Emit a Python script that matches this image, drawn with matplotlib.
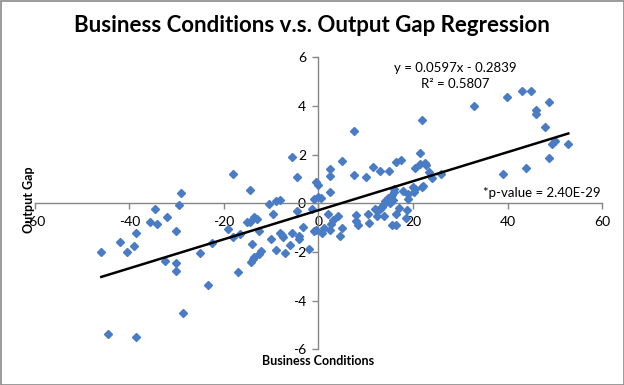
import matplotlib
matplotlib.use("Agg")
import matplotlib.pyplot as plt
from matplotlib.patches import Rectangle
import numpy as np

# Business conditions (x) and output gap (y)
business_conditions = [
    -29.13, -29.43, -34.50, -32.03, -35.56, -34.08, -30.06, -38.52, -41.97, -38.94,
    -45.92, -40.42, -24.99, -32.39, -30.06, -30.06, -23.30, -28.58, -44.44, -38.52,
    -18.01, -4.48, -14.42, -10.47, -8.99, -8.14, -9.56, -4.48, -13.57, -12.94,
    -15.05, -14.42, -19.07, -12.52, -3.21, -8.08, -7.65, -7.44, -5.54, -4.06,
    -4.06, -18.01, -16.53, -10.04, -22.45, -14.00, -5.96, -8.92, -7.02, -12.09,
    -12.52, -13.57, -13.78, -14.21, -1.95, -16.96,
    7.57, -5.54, 5.03, 2.49, 2.49, 7.57, 10.11, 11.59, -0.47, -0.04,
    2.49, -0.89, -0.04, 0.59, -1.31, 2.07, 4.19, 7.99, 10.53, 3.13,
    2.71, 2.49, 5.03, 7.99, 8.41, 10.74, 1.23, 0.80, -0.47, -0.89, 4.61,
    21.95, 13.07, 14.97, 16.45, 17.51, 21.52, 21.52, 22.58, 22.79, 20.47,
    23.42, 24.06, 25.96, 22.16, 21.95, 20.04, 20.47, 20.25, 17.93, 18.99,
    18.99, 16.03, 16.03, 15.60, 15.39, 14.12, 13.70, 13.49, 14.76, 15.81,
    15.18, 12.01, 12.64, 13.07, 12.43, 13.91, 17.08, 18.77, 18.56, 16.45,
    15.60, 16.45,
    32.88, 39.92, 43.09, 44.99, 46.05, 46.05, 48.79, 47.95, 48.79, 43.93,
    39.07, 52.81, 50.00, 49.43,
]
output_gap = [
    0.44, -0.08, -0.25, -0.58, -0.77, -0.86, -1.15, -1.23, -1.60, -1.77,
    -2.01, -2.01, -2.06, -2.38, -2.47, -2.79, -3.37, -4.52, -5.38, -5.51,
    1.19, 1.07, 0.53, -0.04, 0.08, 0.15, -0.44, -0.33, -0.58, -0.66,
    -0.78, -0.78, -1.07, -1.15, -0.99, -1.23, -1.32, -1.40, -1.23, -1.36,
    -1.46, -1.40, -1.27, -1.48, -1.64, -1.69, -1.73, -1.93, -2.06, -1.97,
    -2.10, -2.22, -2.30, -2.42, -1.89, -2.84,
    2.98, 1.89, 1.73, 1.40, 1.11, 1.15, 1.07, 1.48, 0.86, 0.74,
    0.45, 0.16, 0.25, 0.21, -0.25, -0.45, -0.53, -0.49, -0.45, -0.70,
    -0.86, -1.11, -1.03, -0.74, -0.90, -0.82, -1.03, -1.23, -1.11, -1.15, -1.36,
    3.41, 1.32, 1.32, 1.69, 1.77, 2.06, 1.60, 1.64, 1.56, 1.44,
    1.27, 1.03, 1.19, 0.70, 0.66, 0.66, 0.58, 0.45, 0.49, 0.37,
    0.16, 0.58, 0.45, 0.33, 0.25, 0.08, -0.08, -0.16, 0.21, 0.12,
    0.00, -0.25, -0.29, -0.25, -0.53, -0.53, -0.21, -0.29, -0.62, -0.45,
    -0.90, -0.90,
    4.00, 4.36, 4.60, 4.60, 3.82, 3.66, 4.15, 3.12, 1.85, 1.44,
    1.19, 2.42, 2.56, 2.42,
]

slope = 0.0597
intercept = -0.2839
r_squared = 0.5807
p_value_text = "2.40E-29"

x_ticks = [-60, -40, -20, 0, 20, 40, 60]
y_ticks = [-6, -4, -2, 0, 2, 4, 6]

title = "Business Conditions v.s. Output Gap Regression"
x_label = "Business Conditions"
y_label = "Output Gap"

FONT = "Lato"
plt.rcParams["font.family"] = [FONT, "DejaVu Sans"]

fig = plt.figure(figsize=(6.24, 3.85), dpi=100)
W, H = 624, 385

# outer chart border
fig.patches.append(Rectangle((0.5 / W, 0.5 / H), 1 - 1.0 / W, 1 - 1.0 / H,
                             transform=fig.transFigure, fill=False,
                             edgecolor="#8a8a8a", linewidth=1.2))

ax = fig.add_axes([34.7 / W, (H - 349.3) / H, 567.6 / W, 292.0 / H])
ax.set_xlim(-60, 60)
ax.set_ylim(-6, 6)

xs = np.array(business_conditions)
ys = np.array(output_gap)
ax.plot(xs, ys, linestyle="none", marker="D", markersize=4.3,
        markerfacecolor="#4A7CC6", markeredgecolor="#4A7CC6", zorder=3)

xl = np.array([xs.min(), xs.max()])
ax.plot(xl, slope * xl + intercept, color="black", linewidth=1.8, zorder=4)

for side in ("top", "right"):
    ax.spines[side].set_visible(False)
ax.spines["left"].set_position(("data", 0))
ax.spines["bottom"].set_position(("data", 0))
for side in ("left", "bottom"):
    ax.spines[side].set_color("#868686")
    ax.spines[side].set_linewidth(1.0)

ax.set_xticks(x_ticks)
ax.set_yticks(y_ticks)
ax.set_xticklabels([str(t) for t in x_ticks])
ax.set_yticklabels([str(t) for t in y_ticks])
ax.tick_params(axis="both", direction="out", length=4, width=1.0,
               color="#868686", labelsize=10, labelcolor="black", pad=5)
ax.patch.set_alpha(0)

fig.text(312 / W, 1 - 26 / H, title, ha="center", va="center",
         fontsize=16, fontweight="bold")
fig.text(318 / W, 1 - 361 / H, x_label, ha="center", va="center",
         fontsize=9, fontweight="bold")
fig.text(29 / W, 1 - 200 / H, y_label, ha="center", va="center",
         fontsize=9, fontweight="bold", rotation=90)

fig.text(455 / W, 1 - 68 / H,
         "y = %.4fx - %.4f" % (slope, abs(intercept)),
         ha="center", va="center", fontsize=9.5)
fig.text(455 / W, 1 - 84.5 / H, "R² = %.4f" % r_squared,
         ha="center", va="center", fontsize=9.5)
fig.text(601 / W, 1 - 193 / H, "*p-value = " + p_value_text,
         ha="right", va="center", fontsize=9.5)

fig.savefig("out.png", dpi=100)
